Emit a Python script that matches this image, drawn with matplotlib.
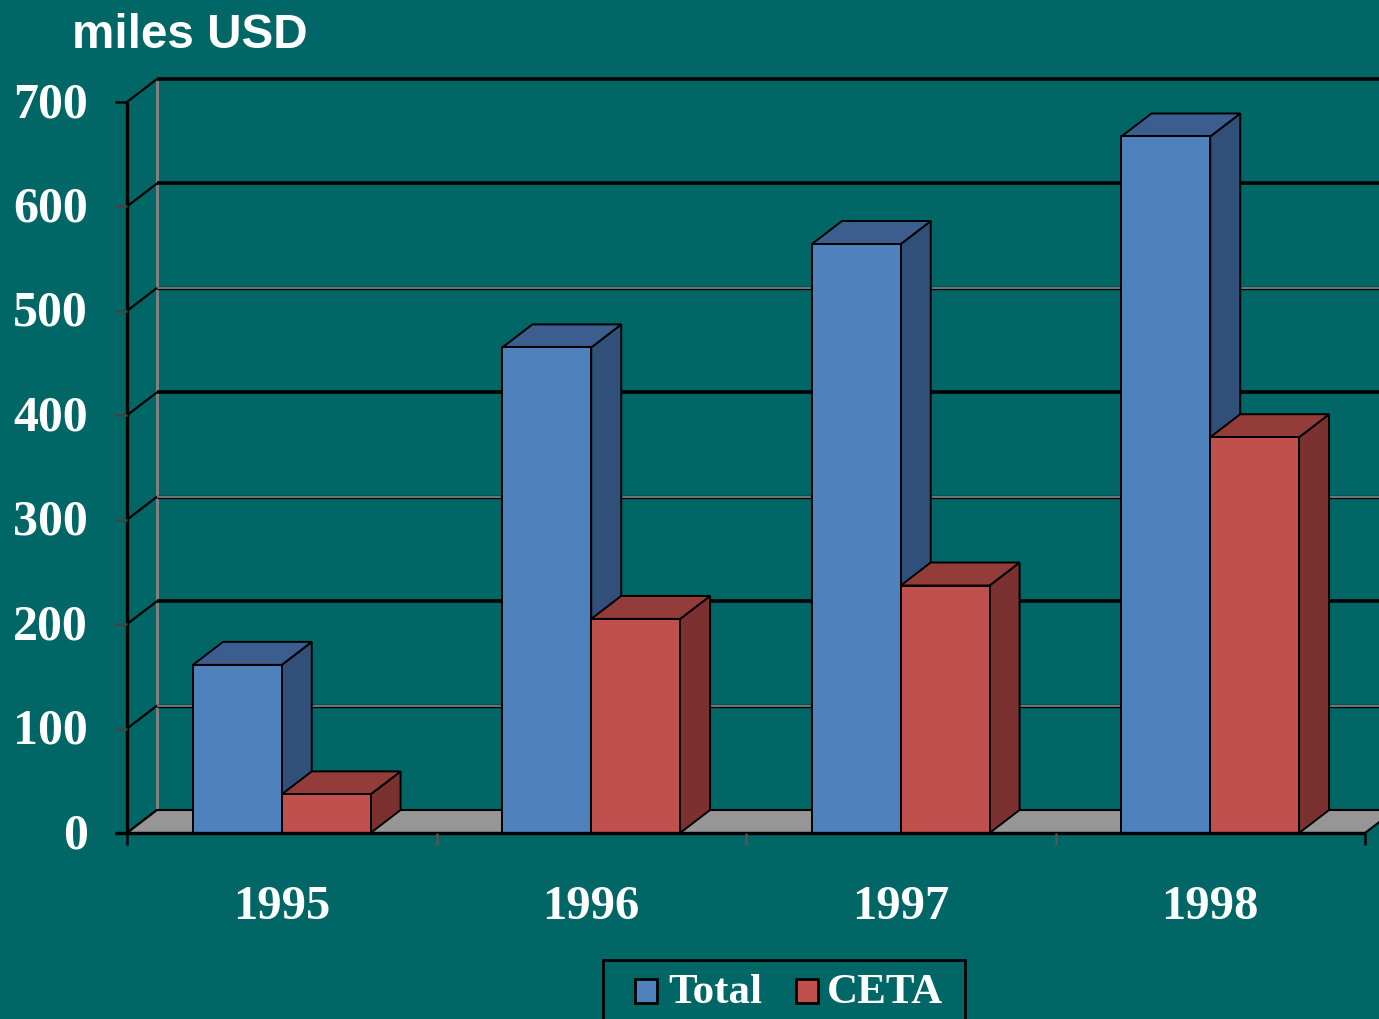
import matplotlib.pyplot as plt
from matplotlib.patches import Polygon, Rectangle

years = ["1995", "1996", "1997", "1998"]
total = [161, 465, 564, 667]
ceta = [37, 205, 237, 379]
y_ticks = [0, 100, 200, 300, 400, 500, 600, 700]
series_names = ["Total", "CETA"]

bg = "#006666"
blue = ("#4F81BD", "#3B5E8E", "#30507A")   # front, top, side
red = ("#C0504D", "#943C3A", "#7A3130")
floor_col = "#969696"

serif = ["Liberation Serif", "DejaVu Serif"]
sans = ["Liberation Sans", "DejaVu Sans"]

W, H = 1379, 1019
fig = plt.figure(figsize=(W / 100, H / 100), dpi=100, facecolor=bg)

# front plane of the 3d box in pixels
px_l, px_r, px_b, px_t = 127, 1365, 833, 102
ax = fig.add_axes([px_l / W, 1 - px_b / H, (px_r - px_l) / W, (px_b - px_t) / H])
ax.set_xlim(0, 4)
ax.set_ylim(0, 700)
ax.axis("off")

# depth offset (30 px right, 23 px up) in data units
DX = 30 / ((px_r - px_l) / 4)
DY = 23 / ((px_b - px_t) / 700)


def poly(pts, fc, ec="black", lw=1.4, z=2):
    ax.add_patch(Polygon(pts, closed=True, fc=fc, ec=ec, lw=lw,
                         clip_on=False, zorder=z, joinstyle="miter"))


def line(xs, ys, c="black", lw=1.5, z=1):
    ax.plot(xs, ys, color=c, lw=lw, clip_on=False, zorder=z,
            solid_capstyle="butt")


# back wall
line([DX, DX], [DY, 700 + DY], c="#7f7f7f", lw=2.2)
for v in y_ticks[1:]:
    if v % 200 == 0 or v == 700:
        line([DX, 4 + DX], [v + DY] * 2, c="black", lw=2.6)
    else:
        line([DX, 4 + DX], [v + DY] * 2, c="black", lw=2.4)
        line([DX, 4 + DX], [v + DY] * 2, c="#8a8a8a", lw=1.2)
# side wall diagonals
for v in y_ticks:
    line([0, DX], [v, v + DY], c="black", lw=1.6)

# floor
poly([(0, 0), (4, 0), (4 + DX, DY), (DX, DY)], floor_col, lw=1.5, z=1.5)

# bars
bw = 0.287
for i in range(len(years)):
    for j, (v, cols) in enumerate([(total[i], blue), (ceta[i], red)]):
        x0 = i + 0.213 + j * bw
        x1 = x0 + bw
        poly([(x1, 0), (x1 + DX, DY), (x1 + DX, v + DY), (x1, v)], cols[2])
        poly([(x0, v), (x1, v), (x1 + DX, v + DY), (x0 + DX, v + DY)], cols[1])
        poly([(x0, 0), (x1, 0), (x1, v), (x0, v)], cols[0])

# front axes
tick_len = 12 / ((px_r - px_l) / 4)
line([0, 0], [0, 700], lw=2.4, z=5)
line([-tick_len, 4], [0, 0], lw=2.4, z=5)
for v in y_ticks:
    line([-tick_len, 0], [v, v], c="black" if v in (0, 700) else "#444444", lw=1.8, z=5)
    ax.text(-0.126, v - 3, str(v), ha="right", va="center", color="white",
            fontsize=36, fontweight="bold", family=serif)
tick_down = 12 / ((px_b - px_t) / 700)
for k in range(5):
    line([k, k], [0, -tick_down], c="#555555" if 0 < k < 4 else "black", lw=1.8, z=5)
for i, yr in enumerate(years):
    ax.text(i + 0.5, -71, yr, ha="center", va="center", color="white",
            fontsize=35, fontweight="bold", family=serif)

# title
fig.text(72 / W, 1 - 36 / H, "miles USD", ha="left", va="center", color="white",
         fontsize=34.3, fontweight="bold", family=sans)

# legend
fig.patches.append(Rectangle((603 / W, -0.05), (965 - 603) / W, 0.05 + (1 - 960 / H),
                             transform=fig.transFigure, fill=False, ec="black", lw=2))
for sx, tx, name, cols in [(635, 668, series_names[0], blue), (796, 827, series_names[1], red)]:
    fig.patches.append(Rectangle((sx / W, 1 - 1003 / H), 22 / W, 24 / H,
                                 transform=fig.transFigure, fc=cols[0], ec="black", lw=2))
    fig.text(tx / W, 1 - 993 / H, name, ha="left", va="center", color="white",
             fontsize=31, fontweight="bold", family=serif)

fig.savefig("out.png", dpi=100, facecolor=bg)
